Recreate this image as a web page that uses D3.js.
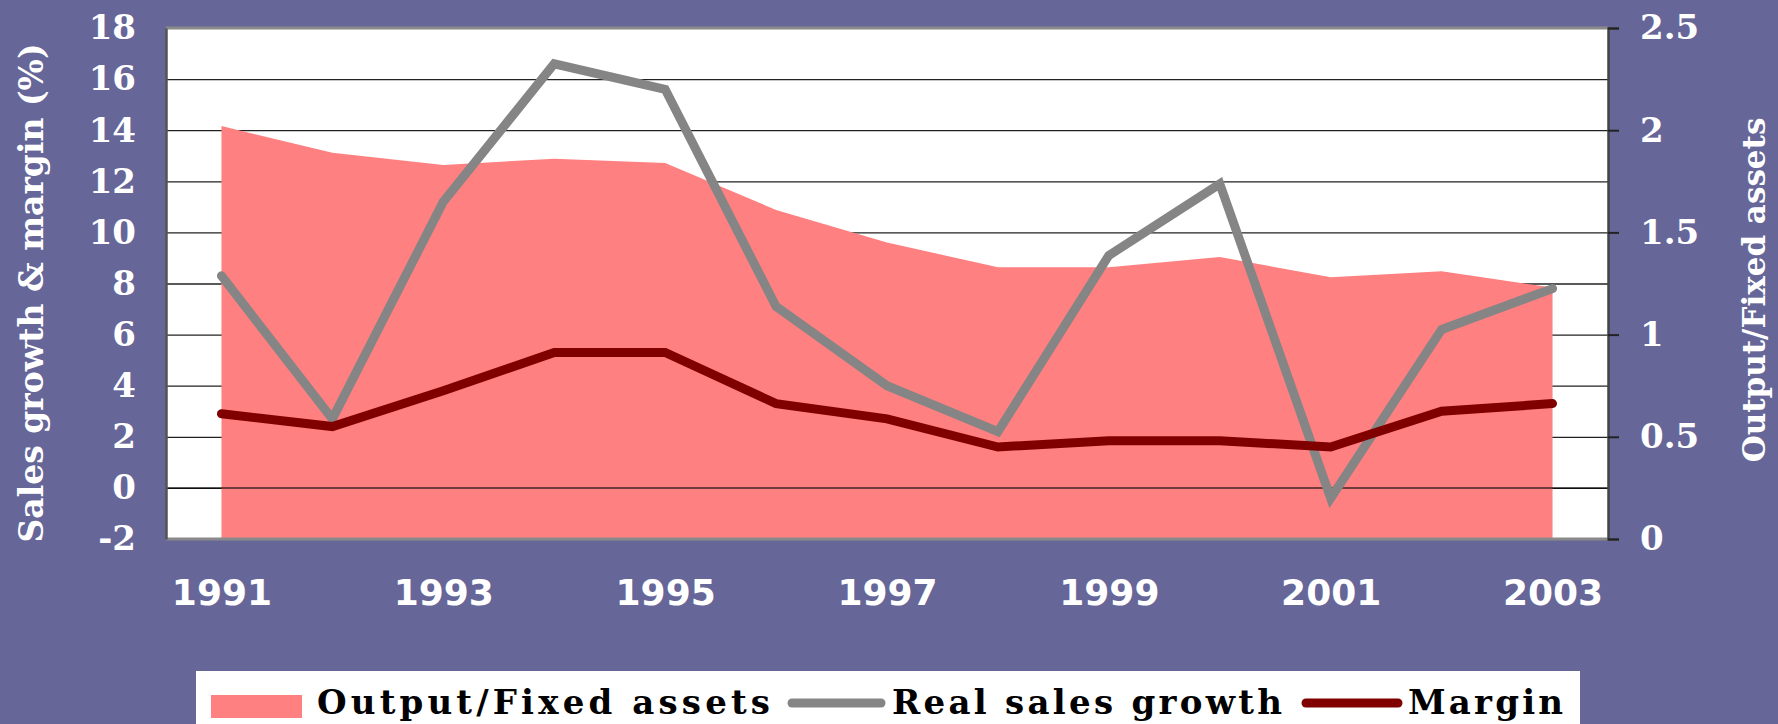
<!DOCTYPE html>
<html>
<head>
<meta charset="utf-8">
<script src="https://cdn.jsdelivr.net/npm/d3@7"></script>
<style>
  html, body { margin: 0; padding: 0; background: #666699; }
  svg { display: block; }
</style>
</head>
<body>
<div id="chart"></div>
<script>
const years = [1991, 1992, 1993, 1994, 1995, 1996, 1997, 1998, 1999, 2000, 2001, 2002, 2003]
const outputFixed = [2.02, 1.89, 1.83, 1.86, 1.84, 1.61, 1.45, 1.33, 1.33, 1.38, 1.28, 1.31, 1.23]
const salesGrowth = [8.3, 2.7, 11.2, 16.6, 15.6, 7.1, 4.0, 2.2, 9.1, 11.9, -0.4, 6.2, 7.8]
const margin = [2.9, 2.4, 3.8, 5.3, 5.3, 3.3, 2.7, 1.6, 1.85, 1.85, 1.6, 3.0, 3.3]

const leftTicks = [-2, 0, 2, 4, 6, 8, 10, 12, 14, 16, 18]
const rightTicks = [0, 0.5, 1, 1.5, 2, 2.5]
const yearLabels = [1991, 1993, 1995, 1997, 1999, 2001, 2003]

const width = 1778;
const height = 724;
const plot = { left: 166, right: 1608, top: 28, bottom: 539 };

const svg = d3.select('#chart')
    .append('svg')
    .attr('width', width)
    .attr('height', height);

svg.append('rect')
    .attr('width', width)
    .attr('height', height)
    .attr('fill', '#666699');

const x = d3.scalePoint()
    .domain(years)
    .range([plot.left, plot.right])
    .padding(0.5)

const yL = d3.scaleLinear()
    .domain([-2, 18])
    .range([plot.bottom, plot.top])

const yR = d3.scaleLinear()
    .domain([0, 2.5])
    .range([plot.bottom, plot.top])

// plot background
svg.append('rect')
    .attr('x', plot.left)
    .attr('y', plot.top)
    .attr('width', plot.right - plot.left)
    .attr('height', plot.bottom - plot.top)
    .attr('fill', '#ffffff');

// gridlines
svg.append('g')
    .attr('transform', `translate(${plot.left},0)`)
    .call(d3.axisLeft(yL).tickValues(leftTicks.filter(d => d > -2 && d < 18)).tickSize(-(plot.right - plot.left)).tickFormat(''))
    .call(g => g.select('.domain').remove())
    .call(g => g.selectAll('line').attr('stroke', '#222').attr('stroke-width', 1.3));

// area series on the right axis
const area = d3.area()
    .x((d, i) => x(years[i]))
    .y0(yR(0))
    .y1(d => yR(d));

svg.append('path')
    .datum(outputFixed)
    .attr('d', area)
    .attr('fill', '#ff8080');

// zero line drawn over the area
svg.append('line')
    .attr('x1', plot.left)
    .attr('x2', plot.right)
    .attr('y1', yL(0))
    .attr('y2', yL(0))
    .attr('stroke', '#000')
    .attr('stroke-opacity', 0.55)
    .attr('stroke-width', 2);

// plot border
svg.append('line').attr('x1', plot.left).attr('x2', plot.right).attr('y1', plot.top).attr('y2', plot.top)
    .attr('stroke', '#8a8a8a').attr('stroke-width', 3);
svg.append('line').attr('x1', plot.left).attr('x2', plot.right).attr('y1', plot.bottom).attr('y2', plot.bottom)
    .attr('stroke', '#8a8a8a').attr('stroke-width', 3);

const line = d3.line()
    .x((d, i) => x(years[i]))
    .y(d => yL(d));

svg.append('path')
    .datum(salesGrowth)
    .attr('d', line)
    .attr('fill', 'none')
    .attr('stroke', '#858585')
    .attr('stroke-width', 9)
    .attr('stroke-linecap', 'round')
    .attr('stroke-linejoin', 'miter');

svg.append('path')
    .datum(margin)
    .attr('d', line)
    .attr('fill', 'none')
    .attr('stroke', '#800000')
    .attr('stroke-width', 9)
    .attr('stroke-linecap', 'round')
    .attr('stroke-linejoin', 'miter');

// left axis
function yAxisLeft(g) {
    g.attr('transform', `translate(${plot.left},0)`)
        .call(d3.axisLeft(yL).tickValues(leftTicks).tickSize(0).tickPadding(30).tickFormat(d => String(d)))
        .call(g => g.select('.domain').attr('stroke', '#555').attr('stroke-width', 2.5))
        .attr('font-family', 'DejaVu Serif')
        .attr('font-weight', 'bold')
        .attr('font-size', '34px')
        .call(g => g.selectAll('text').attr('fill', '#ffffff'));
}

// right axis
function yAxisRight(g) {
    g.attr('transform', `translate(${plot.right},0)`)
        .call(d3.axisRight(yR).tickValues(rightTicks).tickSize(11).tickPadding(21).tickFormat(d => String(d)))
        .call(g => g.select('.domain').attr('stroke', '#444').attr('stroke-width', 2.5))
        .call(g => g.selectAll('line').attr('stroke', '#222').attr('stroke-width', 2))
        .attr('font-family', 'DejaVu Serif')
        .attr('font-weight', 'bold')
        .attr('font-size', '34px')
        .call(g => g.selectAll('text').attr('fill', '#ffffff'));
}

function xAxis(g) {
    g.attr('transform', `translate(0,${plot.bottom})`)
        .call(d3.axisBottom(x).tickValues(yearLabels).tickSize(0).tickPadding(40))
        .call(g => g.select('.domain').remove())
        .attr('font-family', 'DejaVu Sans')
        .attr('font-weight', 'bold')
        .attr('font-size', '36px')
        .call(g => g.selectAll('text').attr('fill', '#ffffff'));
}

svg.append('g').call(yAxisLeft);
svg.append('g').call(yAxisRight);
svg.append('g').call(xAxis);

// axis titles
svg.append('text')
    .attr('transform', 'translate(43,293) rotate(-90)')
    .attr('text-anchor', 'middle')
    .attr('font-family', 'DejaVu Serif')
    .attr('font-weight', 'bold')
    .attr('font-size', '33px')
    .attr('fill', '#ffffff')
    .text('Sales growth & margin (%)');

svg.append('text')
    .attr('transform', 'translate(1765,290) rotate(-90)')
    .attr('text-anchor', 'middle')
    .attr('font-family', 'DejaVu Serif')
    .attr('font-weight', 'bold')
    .attr('font-size', '31px')
    .attr('fill', '#ffffff')
    .text('Output/Fixed assets');

// legend
const legend = svg.append('g');
legend.append('rect')
    .attr('x', 196)
    .attr('y', 671)
    .attr('width', 1580 - 196)
    .attr('height', 80)
    .attr('fill', '#ffffff');

legend.append('rect')
    .attr('x', 211).attr('y', 695)
    .attr('width', 91).attr('height', 23)
    .attr('fill', '#ff8080');

legend.append('line')
    .attr('x1', 792).attr('x2', 881).attr('y1', 703).attr('y2', 703)
    .attr('stroke', '#858585').attr('stroke-width', 9).attr('stroke-linecap', 'round');

legend.append('line')
    .attr('x1', 1306).attr('x2', 1398).attr('y1', 703).attr('y2', 703)
    .attr('stroke', '#800000').attr('stroke-width', 9).attr('stroke-linecap', 'round');

const legendItems = [
    { label: 'Output/Fixed assets', x: 317, len: 453 },
    { label: 'Real sales growth', x: 892, len: 390 },
    { label: 'Margin', x: 1408, len: 155 }
];

legend.selectAll('text.leg')
    .data(legendItems)
    .join('text')
    .attr('class', 'leg')
    .attr('x', d => d.x)
    .attr('y', 714)
    .attr('textLength', d => d.len)
    .attr('lengthAdjust', 'spacing')
    .attr('font-family', 'DejaVu Serif')
    .attr('font-weight', 'bold')
    .attr('font-size', '34px')
    .attr('fill', '#000')
    .text(d => d.label);
</script>
</body>
</html>
